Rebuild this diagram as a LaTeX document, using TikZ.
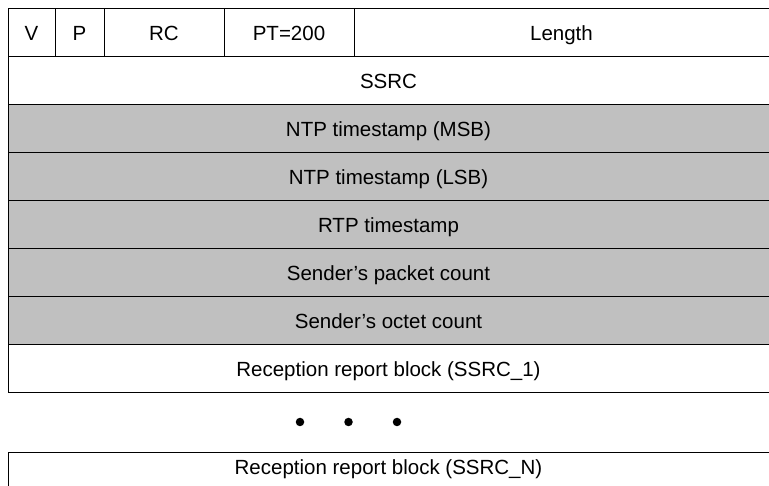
\documentclass[tikz,border=0pt]{standalone}
\usepackage{fontspec}
\setmainfont{Liberation Sans}
\definecolor{shade}{HTML}{C0C0C0}
\begin{document}
\begin{tikzpicture}[x=1pt,y=-1pt,
  cell/.style={draw=black,line width=1pt},
  shaded/.style={cell,fill=shade},
  lbl/.style={font=\fontsize{20.5}{24}\selectfont,inner sep=0pt,anchor=center,text height=14.7pt,text depth=0pt},
  dot/.style={circle,fill=black,inner sep=0pt,minimum size=8.5pt}]
\useasboundingbox (0,0) rectangle (769,486);
% row 1
\draw[cell] (8,9) rectangle (55,57);
\draw[cell] (55,9) rectangle (104,57);
\draw[cell] (104,9) rectangle (224,57);
\draw[cell] (224,9) rectangle (354,57);
\draw[cell] (354,9) rectangle (775,57);
\node[lbl] (v) at (31.5,33) {V};
\node[lbl] (p) at (79.5,33) {P};
\node[lbl] (rc) at (164,33) {RC};
\node[lbl] (pt) at (289,33) {PT=200};
\node[lbl] (len) at (561.5,33) {Length};
% SSRC
\draw[cell] (8,57) rectangle (775,105);
\node[lbl] (ssrc) at (388.5,81) {SSRC};
% shaded rows
\draw[shaded] (8,105) rectangle (775,153);
\node[lbl] (msb) at (388.5,129) {NTP timestamp (MSB)};
\draw[shaded] (8,153) rectangle (775,201);
\node[lbl] (lsb) at (388.5,177) {NTP timestamp (LSB)};
\draw[shaded] (8,201) rectangle (775,249);
\node[lbl] (rtp) at (388.5,225) {RTP timestamp};
\draw[shaded] (8,249) rectangle (775,297);
\node[lbl] (pkt) at (388.5,273) {Sender’s packet count};
\draw[shaded] (8,297) rectangle (775,345);
\node[lbl] (oct) at (388.5,321) {Sender’s octet count};
% report blocks
\draw[cell] (8,345) rectangle (775,393);
\node[lbl] (rr1) at (388.5,369) {Reception report block (SSRC\_1)};
\node[dot] (d1) at (300,422) {};
\node[dot] (d2) at (348.5,422) {};
\node[dot] (d3) at (397,422) {};
\draw[cell] (8,452) rectangle (775,500);
\node[lbl] (rrn) at (388.5,467) {Reception report block (SSRC\_N)};
\end{tikzpicture}
\end{document}
